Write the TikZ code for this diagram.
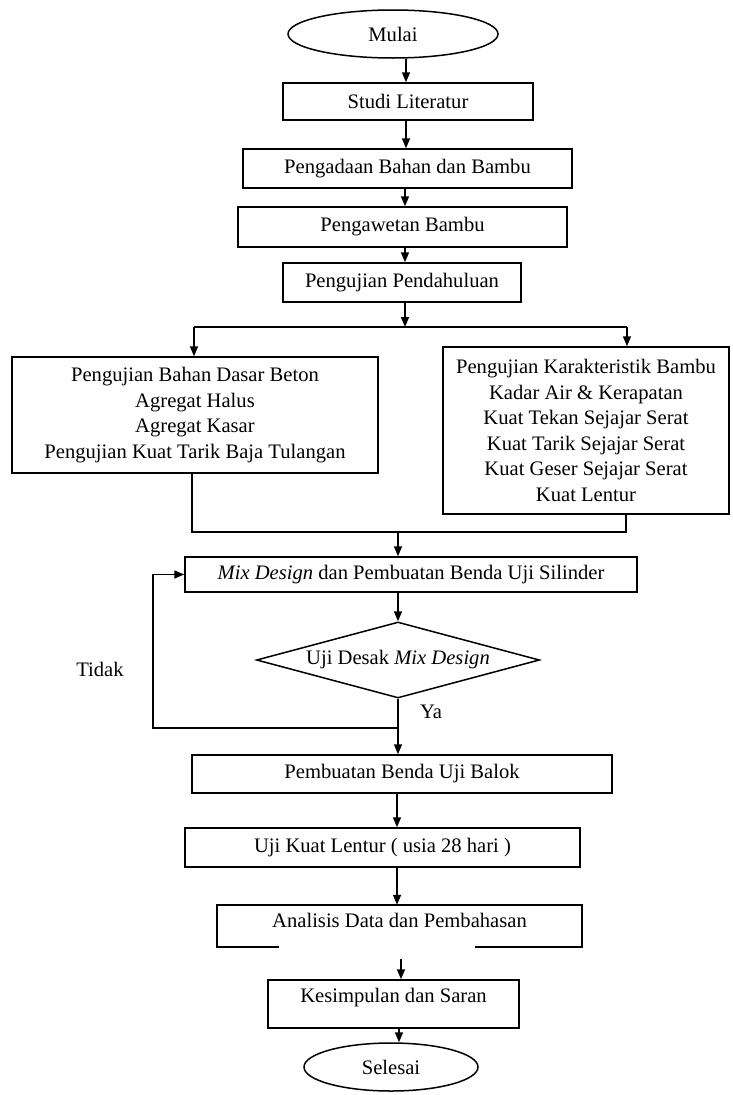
\documentclass[tikz,border=0pt]{standalone}
\usepackage{fontspec}
\setmainfont{Liberation Serif}
\usetikzlibrary{shapes.geometric,arrows.meta}
\begin{document}
\begin{tikzpicture}[x=1pt,y=-1pt,
  ln/.style={line width=1.5pt},
  box/.style={draw,line width=1.5pt,inner sep=0pt,align=center,font=\fontsize{20.6}{25.5}\selectfont},
  openbox/.style={inner sep=0pt,align=center,font=\fontsize{20.6}{25.5}\selectfont},
  term/.style={draw,ellipse,line width=1.5pt,inner sep=0pt,font=\fontsize{20.6}{24}\selectfont},
  dec/.style={draw,diamond,line width=1.5pt,inner sep=0pt,aspect=3.7,font=\fontsize{20.6}{24}\selectfont},
  lbl/.style={inner sep=0pt,font=\fontsize{20.6}{24}\selectfont},
  arr/.style={line width=1.5pt,-{Triangle[length=10pt,width=8pt]}}]
\useasboundingbox (0,0) rectangle (732,1095);

% nodes
\node[term,minimum width=210pt,minimum height=48pt] (mulai) at (393,34) {Mulai};
\node[box,minimum width=250pt,minimum height=37pt] (studi) at (408,101.5) {Studi Literatur};
\node[box,minimum width=329pt,minimum height=39pt] (adaan) at (407.5,168.5) {Pengadaan Bahan dan Bambu};
\node[box,minimum width=329pt,minimum height=40pt] (awet) at (402.5,227) {Pengawetan Bambu};
\node[box,minimum width=238pt,minimum height=39pt] (pend) at (402,282.5) {Pengujian Pendahuluan};
\node[box,minimum width=366pt,minimum height=116pt] (left) at (195,415)
  {Pengujian Bahan Dasar Beton\\Agregat Halus\\Agregat Kasar\\Pengujian Kuat Tarik Baja Tulangan};
\node[box,minimum width=286pt,minimum height=167pt] (right) at (586,430.5)
  {Pengujian Karakteristik Bambu\\Kadar Air \& Kerapatan\\Kuat Tekan Sejajar Serat\\Kuat Tarik Sejajar Serat\\Kuat Geser Sejajar Serat\\Kuat Lentur};
\node[box,minimum width=452pt,minimum height=35pt] (mix) at (411,574.5) {\textit{Mix Design} dan Pembuatan Benda Uji Silinder};
\node[dec,minimum width=283pt,minimum height=76pt] (dia) at (398,660) {Uji Desak \textit{Mix Design}};
\node[box,minimum width=420pt,minimum height=38pt] (balok) at (402,774) {Pembuatan Benda Uji Balok};
\node[box,minimum width=395pt,minimum height=39pt] (lentur) at (382.5,847.5) {Uji Kuat Lentur ( usia 28 hari )};
\node[openbox,minimum width=365pt,minimum height=42pt,text depth=12pt] (anal) at (399.5,926) {Analisis Data dan Pembahasan};
\node[box,minimum width=251pt,minimum height=48pt,text depth=18pt] (kes) at (393.5,1004) {Kesimpulan dan Saran};
\node[term,minimum width=174pt,minimum height=48pt] (selesai) at (391,1067) {Selesai};
\node[lbl] (tidak) at (100,669) {Tidak};
\node[lbl] (ya) at (431,712) {Ya};

% Analisis box outline with the gap in its bottom edge
\coordinate (gapL) at (279,947);
\coordinate (gapR) at (475,947);
\draw[ln] (gapL) -- (gapL -| anal.west) -- (anal.north west) -- (anal.north east) -- (gapR -| anal.east) -- (gapR);

% trunk coordinates
\coordinate (t1) at (406,0);
\coordinate (t2) at (405,0);
\coordinate (t4) at (397,0);
\coordinate (t5) at (401,959);
\coordinate (t6) at (399,0);

\draw[arr] (t1 |- mulai.south) -- (t1 |- studi.north);
\draw[arr] (t1 |- studi.south) -- (t1 |- adaan.north);
\draw[arr] (t2 |- adaan.south) -- (t2 |- awet.north);
\draw[arr] (t2 |- awet.south) -- (t2 |- pend.north);

% branch
\coordinate (br) at (405,327);
\coordinate (bl) at (194,327);
\coordinate (brr) at (627,327);
\draw[arr] (t2 |- pend.south) -- (br);
\draw[ln] (bl) -- (brr);
\draw[arr] (bl) -- (bl |- left.north);
\draw[arr] (brr) -- (brr |- right.north);

% merge
\coordinate (ml) at (192,532);
\coordinate (mr) at (626,532);
\coordinate (mm) at (398,532);
\draw[ln] (ml |- left.south) -- (ml) -- (mr) -- (mr |- right.south);
\draw[arr] (mm) -- (mm |- mix.north);

\draw[arr] (dia.north |- mix.south) -- (dia.north);

% decision
\coordinate (j) at (398,728);
\coordinate (fb) at (153,728);
\draw[arr] (dia.south) -- (dia.south |- balok.north);
\draw[arr] (j) -- (fb) |- (mix.west);

\draw[arr] (t4 |- balok.south) -- (t4 |- lentur.north);
\draw[arr] (t4 |- lentur.south) -- (t4 |- anal.north);
\draw[arr] (t5) -- (t5 |- kes.north);
\draw[arr] (t6 |- kes.south) -- (t6 |- selesai.north);
\end{tikzpicture}
\end{document}
